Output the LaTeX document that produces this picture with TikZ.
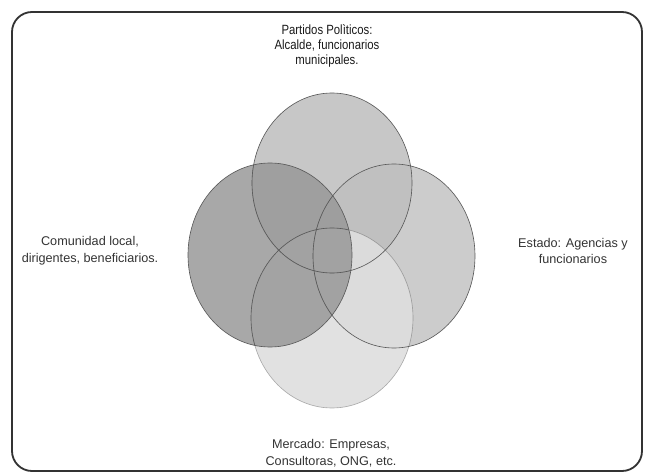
\documentclass[tikz,border=0pt]{standalone}
\usepackage{fontspec}
\setmainfont{Liberation Sans}
\newfontfamily\narrowsans[FakeStretch=0.85]{Liberation Sans}
\usetikzlibrary{positioning}

\begin{document}
\begin{tikzpicture}[
    x=0.025cm, y=-0.025cm,
    frame/.style={draw=black!80, line width=1.3pt, rounded corners=0.5cm},
    venn/.style={draw=black!65, line width=0.45pt},
    label/.style={align=center, font=\fontsize{9}{12}\selectfont, text=black!80,
                  inner sep=1pt},
    toplabel/.style={align=center, font=\narrowsans\fontsize{9.5}{11}\selectfont,
                  text=black!90, inner sep=1pt}
]
    \useasboundingbox (0,0) rectangle (645,473);

    % marco
    \draw[frame] (12,12) rectangle (642,471);

    % circulos
    \fill[black!22] (332,183) ellipse [x radius=80, y radius=90];
    \fill[black!25, fill opacity=0.8] (394,256) ellipse [x radius=81, y radius=92];
    \fill[black!13, fill opacity=0.9] (332,318) ellipse [x radius=81, y radius=90];
    \draw[venn, draw opacity=0.45] (332,318) ellipse [x radius=81, y radius=90];
    \draw[venn] (332,183) ellipse [x radius=80, y radius=90];
    \draw[venn] (394,256) ellipse [x radius=81, y radius=92];
    \fill[black!40, fill opacity=0.85] (270,255) ellipse [x radius=82, y radius=92];
    \draw[venn] (270,255) ellipse [x radius=82, y radius=92];
    \begin{scope}
        \clip (270,255) ellipse [x radius=82, y radius=92];
        \draw[venn] (332,318) ellipse [x radius=81, y radius=90];
        \draw[venn] (332,183) ellipse [x radius=80, y radius=90];
        \draw[venn] (394,256) ellipse [x radius=81, y radius=92];
    \end{scope}

    % textos
    \node[toplabel] (partidos) at (327,46)
        {Partidos Polìticos:\\Alcalde, funcionarios\\municipales.};
    \node[label] (comunidad) at (90,251)
        {Comunidad local,\\dirigentes, beneficiarios.};
    \node[label] (estado) at (573,251)
        {Estado: Agencias y\\funcionarios};
    \node[label] (mercado) at (331,453)
        {Mercado: Empresas,\\Consultoras, ONG, etc.};

\end{tikzpicture}
\end{document}
